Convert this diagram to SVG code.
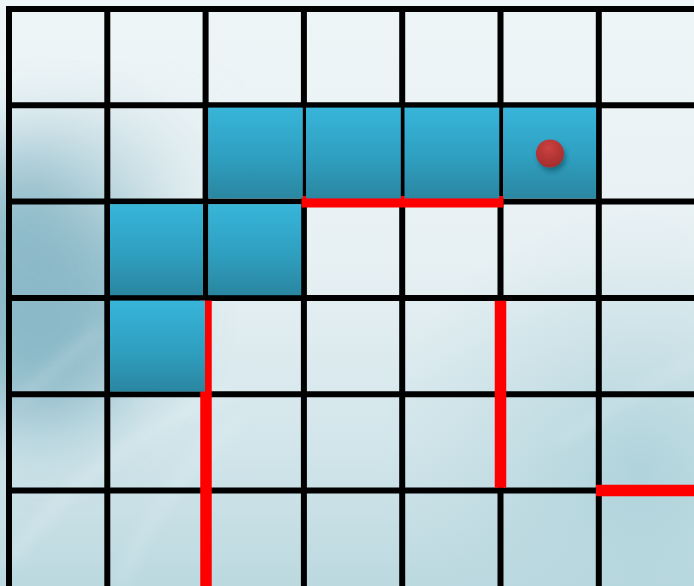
<svg xmlns="http://www.w3.org/2000/svg" width="694" height="586" viewBox="0 0 694 586">
  <defs>
    <linearGradient id="bgV" x1="0" y1="0" x2="0" y2="1">
      <stop offset="0" stop-color="#eef5f7"/>
      <stop offset="0.45" stop-color="#e7f0f3"/>
      <stop offset="0.75" stop-color="#d3e6eb"/>
      <stop offset="1" stop-color="#bcd9e0"/>
    </linearGradient>
    <radialGradient id="brDark" cx="640" cy="470" r="260" gradientUnits="userSpaceOnUse">
      <stop offset="0" stop-color="#a8cfd8" stop-opacity="0.8"/>
      <stop offset="1" stop-color="#bcd9e0" stop-opacity="0"/>
    </radialGradient>
    <linearGradient id="blueG" x1="0" y1="0" x2="0" y2="1">
      <stop offset="0" stop-color="#37b5d9"/>
      <stop offset="0.55" stop-color="#2f9fc0"/>
      <stop offset="1" stop-color="#2a86a0"/>
    </linearGradient>
    <radialGradient id="dotG" cx="0.45" cy="0.3" r="0.75">
      <stop offset="0" stop-color="#cc4141"/>
      <stop offset="1" stop-color="#a02b2b"/>
    </radialGradient>
    <filter id="sh" x="-50%" y="-50%" width="200%" height="200%">
      <feDropShadow dx="2" dy="4" stdDeviation="2.5" flood-color="#103040" flood-opacity="0.45"/>
    </filter>
    <filter id="blurBig" x="-60%" y="-60%" width="220%" height="220%"><feGaussianBlur stdDeviation="40"/></filter>
    <filter id="blur6"><feGaussianBlur stdDeviation="7"/></filter>
  </defs>
  <style>
    .grid line { stroke: #000; stroke-width: 6; }
    .cell { fill: url(#blueG); }
    .wall { stroke: #ff0000; stroke-width: 11.5; }
  </style>

  <!-- background -->
  <rect x="0" y="0" width="694" height="586" fill="url(#bgV)"/>
  <rect x="0" y="0" width="694" height="586" fill="url(#brDark)"/>
  <ellipse cx="40" cy="285" rx="115" ry="145" fill="#76acbd" opacity="0.8" filter="url(#blurBig)"/>
  <ellipse cx="120" cy="170" rx="70" ry="50" fill="#c6dde3" opacity="0.6" filter="url(#blurBig)"/>
  <g filter="url(#blur6)" stroke="#f4fafb" stroke-opacity="0.3" fill="none">
    <path d="M10 560 Q 90 450 230 390" stroke-width="8"/>
    <path d="M120 586 Q 150 500 240 420" stroke-width="6"/>
    <path d="M20 400 Q 60 360 100 330" stroke-width="6"/>
    <path d="M560 440 Q 640 390 694 360" stroke-width="6"/>
  </g>

  <!-- grid -->
  <g id="grid" class="grid">
    <line x1="9" y1="6" x2="9" y2="586"/>
    <line x1="107.3" y1="6" x2="107.3" y2="586"/>
    <line x1="205.6" y1="6" x2="205.6" y2="586"/>
    <line x1="303.9" y1="6" x2="303.9" y2="586"/>
    <line x1="402.2" y1="6" x2="402.2" y2="586"/>
    <line x1="500.5" y1="6" x2="500.5" y2="586"/>
    <line x1="598.8" y1="6" x2="598.8" y2="586"/>
    <line x1="6" y1="9" x2="694" y2="9"/>
    <line x1="6" y1="105.3" x2="694" y2="105.3"/>
    <line x1="6" y1="201.6" x2="694" y2="201.6"/>
    <line x1="6" y1="297.9" x2="694" y2="297.9"/>
    <line x1="6" y1="394.2" x2="694" y2="394.2"/>
    <line x1="6" y1="490.5" x2="694" y2="490.5"/>
  </g>

  <!-- red walls -->
  <g id="walls" class="wall">
    <line x1="301.5" y1="201.8" x2="503.5" y2="201.8"/>
    <line x1="206" y1="300.5" x2="206" y2="586"/>
    <line x1="500.5" y1="300.8" x2="500.5" y2="487.7"/>
    <line x1="596" y1="490.4" x2="694" y2="490.4"/>
  </g>

  <!-- blue cells -->
  <g id="cells">
    <rect id="cell-1-2" class="cell" x="208.2" y="107.6" width="94.6" height="90.8"/>
    <rect id="cell-1-3" class="cell" x="306" y="107.6" width="94.8" height="90.8"/>
    <rect id="cell-1-4" class="cell" x="404.5" y="107.6" width="94.8" height="90.8"/>
    <rect id="cell-1-5" class="cell" x="503.3" y="107.6" width="92.8" height="90.8"/>
    <rect id="cell-2-1" class="cell" x="110" y="204.2" width="93" height="91"/>
    <rect id="cell-2-2" class="cell" x="208.2" y="204.2" width="93" height="91"/>
    <rect id="cell-3-1" class="cell" x="110" y="300.6" width="95" height="90.9"/>
  </g>

  <!-- ball -->
  <g id="ball">
    <circle cx="550" cy="153.5" r="14" fill="url(#dotG)" filter="url(#sh)"/>
  </g>
</svg>
